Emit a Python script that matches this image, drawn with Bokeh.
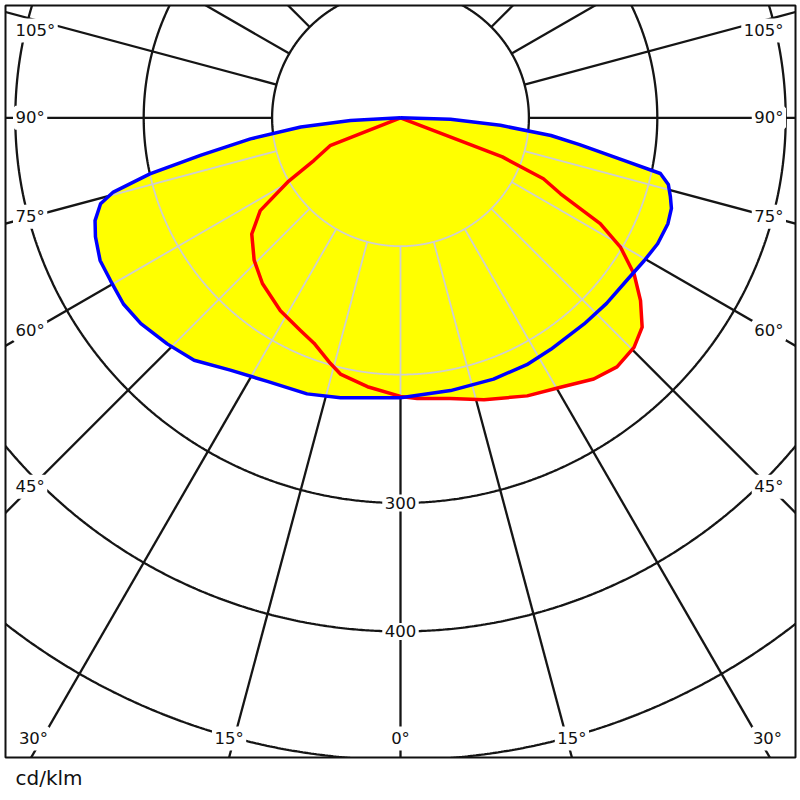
import numpy as np
from bokeh.plotting import figure
from bokeh.models import ColumnDataSource, LabelSet, Title, Range1d
from bokeh.core.properties import value
from bokeh.embed import file_html
from bokeh.resources import INLINE

# ---- data (angles in degrees: 0 = nadir, negative = left half) ----
blue_angles = [-90, -87, -84.7, -82, -79.4, -77.4, -75.5, -74, -71.4, -68.7, -64.6, -60.7,
               -56.1, -51.6, -45.9, -40.4, -34, -26.8, -18.7, -12.1, 0, 10.4, 19.6, 27.1,
               33, 41.7, 48, 54.4, 59.6, 63.9, 68.4, 71.5, 73.7, 76, 77.9, 79.2, 81.5, 83.3,
               85.7, 88.3, 90]
blue_values = [0, 39, 78, 118, 158, 200, 231, 243, 251, 255, 259, 259,
               260, 258, 253, 248, 237, 230, 227, 223, 218, 216, 216, 216,
               215, 215, 216, 217, 220, 223, 224, 222.5, 219, 215, 207, 177, 141, 118,
               78, 39, 0]

red_angles = [-90, -68.4, -63.8, -60.5, -56.5, -52, -45.8, -39.8, -31.9, -25.2, -21, -15.9,
              -13.2, -7, 0, 3.4, 10, 16.5, 24.5, 30.7, 36.5, 41, 45.5, 49.1, 52.7, 56.2,
              59.5, 62.1, 64.6, 66.9, 69, 90]
red_values = [0, 59, 75, 100, 131, 147, 159, 168, 177, 183, 188, 199,
              205, 211, 217, 219, 222, 229, 238, 244, 253, 257, 255, 249, 235, 219,
              199, 176, 138, 121, 85, 0]

ring_values = [100, 200, 300, 400, 500, 600]
ring_label_values = [300, 400]
spoke_angles = list(range(0, 360, 15))
angle_label_values = [0, 15, 30, 45, 60, 75, 90, 105]
unit_label = "cd/klm"

# ---- geometry of the frame (page pixels) ----
PX = 1.284                     # pixels per cd/klm
FL, FT = 5, 5                  # frame left / top on the page
FW, FH = 790, 752              # frame size
POLE_X, POLE_Y = 400, 117.3    # pole on the page
x0, x1 = -(POLE_X - FL) / PX, (FL + FW - POLE_X) / PX
y1, y0 = (POLE_Y - FT) / PX, -(FT + FH - POLE_Y) / PX


def polar_xy(ang_deg, r):
    a = np.radians(np.asarray(ang_deg, float))
    r = np.asarray(r, float)
    return r * np.sin(a), -r * np.cos(a)


def ray_radius(ang_deg, vals, phi_deg):
    a = np.radians(np.asarray(ang_deg, float))
    x, y = polar_xy(ang_deg, vals)
    phi = np.radians(np.atleast_1d(np.asarray(phi_deg, float)))
    i = np.clip(np.searchsorted(a, phi, side="right") - 1, 0, len(a) - 2)
    px, py = x[i], y[i]
    dx, dy = x[i + 1] - px, y[i + 1] - py
    ux, uy = np.sin(phi), -np.cos(phi)
    den = ux * dy - uy * dx
    num = px * dy - py * dx
    ok = np.abs(den) > 1e-12
    s = np.where(ok, num / np.where(ok, den, 1.0), 0.0)
    outside = (phi < a[0] - 1e-9) | (phi > a[-1] + 1e-9)
    return np.where(outside, 0.0, np.maximum(s, 0.0))


def union_radius(phi_deg):
    return np.maximum(ray_radius(blue_angles, blue_values, phi_deg),
                      ray_radius(red_angles, red_values, phi_deg))


p = figure(frame_width=FW, frame_height=FH,
           x_range=Range1d(x0, x1), y_range=Range1d(y0, y1),
           output_backend="svg", toolbar_location=None,
           x_axis_location=None, y_axis_location=None,
           min_border_left=FL, min_border_top=FT, min_border_right=5, min_border_bottom=0,
           background_fill_color="white", border_fill_color="white",
           outline_line_color="#111111", outline_line_width=2)
p.xgrid.grid_line_color = None
p.ygrid.grid_line_color = None

GRID = "#151515"
# black rings
t = np.linspace(0, 360, 1441)
ring_xs, ring_ys = [], []
for R in ring_values:
    xx, yy = polar_xy(t, np.full_like(t, R))
    ring_xs.append(xx.tolist())
    ring_ys.append(yy.tolist())
p.multi_line(ring_xs, ring_ys, line_color=GRID, line_width=2.3)

# black spokes from the first ring outward
sp_xs, sp_ys = [], []
for a in spoke_angles:
    xx, yy = polar_xy([a, a], [ring_values[0], 900])
    sp_xs.append(xx.tolist())
    sp_ys.append(yy.tolist())
p.multi_line(sp_xs, sp_ys, line_color=GRID, line_width=2.3)

# yellow fill (union of both planes)
bx, by = polar_xy(blue_angles, blue_values)
rx, ry = polar_xy(red_angles, red_values)
p.patch(bx.tolist(), by.tolist(), fill_color="#ffff00", line_color=None)
p.patch(rx.tolist(), ry.tolist(), fill_color="#ffff00", line_color=None)

# light grid inside the filled area
LIGHT = "#cfcfcf"
g_xs, g_ys = [], []
for a in spoke_angles:
    aa = ((a + 180) % 360) - 180
    if -90 <= aa <= 90:
        ru = float(union_radius(aa)[0])
        if ru > ring_values[0]:
            xx, yy = polar_xy([aa, aa], [ring_values[0], ru])
            g_xs.append(xx.tolist())
            g_ys.append(yy.tolist())
p.multi_line(g_xs, g_ys, line_color=LIGHT, line_width=1.8)

th = np.arange(-90, 90.0001, 0.1)
ru_all = union_radius(th)
for R in ring_values:
    mask = ru_all >= R
    if mask.any():
        xx, yy = polar_xy(th, np.full_like(th, R))
        xx = np.where(mask, xx, np.nan)
        yy = np.where(mask, yy, np.nan)
        p.line(xx, yy, line_color=LIGHT, line_width=1.8)

# curves
p.line(rx.tolist(), ry.tolist(), line_color="#ff0000", line_width=3.5, line_join="round")
p.line(bx.tolist(), by.tolist(), line_color="#0000ff", line_width=3.5, line_join="round")

# ---- labels ----
x_hit = (POLE_X - 31) / PX
y_top_lab = (POLE_Y - 30) / PX
y_bot_lab = -(738 - POLE_Y) / PX
y_frame_bot = y0
x_bot_lim = (767 - POLE_X) / PX
x_left_txt = (15 - POLE_X) / PX
x_right_txt = (783 - POLE_X) / PX

L = dict(x=[], y=[], t=[])
Rt = dict(x=[], y=[], t=[])
C = dict(x=[], y=[], t=[])
for ang in angle_label_values:
    txt = f"{ang}°"
    a = np.radians(ang)
    if ang == 0:
        C["x"].append(0.0); C["y"].append(y_bot_lab); C["t"].append(txt)
        continue
    y_side = -x_hit * np.cos(a) / np.sin(a)
    for s in (-1, 1):
        if y_side >= y_bot_lab:
            yv = min(y_side, y_top_lab)
            if s < 0:
                L["x"].append(x_left_txt); L["y"].append(yv); L["t"].append(txt)
            else:
                Rt["x"].append(x_right_txt); Rt["y"].append(yv); Rt["t"].append(txt)
        else:
            xv = min(-y_frame_bot * np.tan(a), x_bot_lim)
            C["x"].append(s * xv); C["y"].append(y_bot_lab); C["t"].append(txt)
for rv in ring_label_values:
    C["x"].append(0.0); C["y"].append(-float(rv)); C["t"].append(str(rv))

common = dict(text_font=value("DejaVu Sans"), text_font_size=value("16.5px"),
              text_color="#111111", text_baseline="middle",
              background_fill_color="white",
              border_line_color="white", border_line_width=5)
p.add_layout(LabelSet(x="x", y="y", text="t", source=ColumnDataSource(L), text_align="left", **common))
p.add_layout(LabelSet(x="x", y="y", text="t", source=ColumnDataSource(Rt), text_align="right", **common))
p.add_layout(LabelSet(x="x", y="y", text="t", source=ColumnDataSource(C), text_align="center", **common))

p.add_layout(Title(text=unit_label, align="left", offset=10, standoff=13,
                   text_font="DejaVu Sans", text_font_size="20px",
                   text_font_style="normal", text_color="#111111"), "below")

open("out.html", "w").write(file_html(p, INLINE))
